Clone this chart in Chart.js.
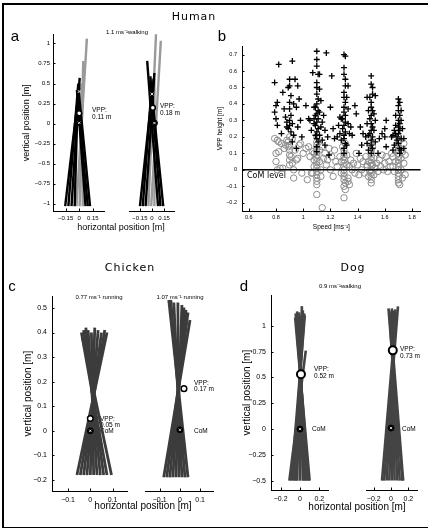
<!DOCTYPE html>
<html>
<head>
<meta charset="utf-8">
<script src="https://cdn.jsdelivr.net/npm/chart.js@4.4.1/dist/chart.umd.min.js"></script>
<style>
  html, body { margin: 0; padding: 0; background: #fff; }
  #fig { position: relative; width: 428px; height: 530px; overflow: hidden;
         font-family: "Liberation Sans", Arial, sans-serif; color: #000; }
  #fig canvas { position: absolute; }
  .t { position: absolute; white-space: nowrap; line-height: 1; will-change: transform; }
  .c { transform: translate(-50%, -50%); }
  .l { transform: translateY(-50%); }
  .head { font-family: "DejaVu Sans", sans-serif; font-size: 11px; letter-spacing: 1px; }
  .letter { font-size: 15px; }
  .small { font-size: 6px; }
  .note { font-size: 6.5px; }
  .rule { position: absolute; background: #000; }
</style>
</head>
<body>
<div id="fig">
  <div class="rule" style="left:2px;top:3px;width:426px;height:1.5px"></div>
  <div class="rule" style="left:2px;top:3px;width:1.5px;height:525px"></div>
  <div class="rule" style="left:2px;top:526.5px;width:426px;height:1.5px"></div>

  <div class="t c head" style="left:194px;top:16px">Human</div>
  <div class="t c head" style="left:130px;top:267px">Chicken</div>
  <div class="t c head" style="left:353px;top:267px">Dog</div>

  <div class="t c letter" style="left:15px;top:35px">a</div>
  <div class="t c letter" style="left:222px;top:35px">b</div>
  <div class="t c letter" style="left:12px;top:285px">c</div>
  <div class="t c letter" style="left:244px;top:285px">d</div>

  <div class="t c small" style="left:127px;top:32px">1.1 ms⁻¹walking</div>
  <div class="t l note" style="left:92px;top:110px">VPP:</div>
  <div class="t l note" style="left:92px;top:117px">0.11 m</div>
  <div class="t l note" style="left:160px;top:106px">VPP:</div>
  <div class="t l note" style="left:160px;top:112.5px">0.18 m</div>
  <div class="t c" style="left:121px;top:227px;font-size:9px">horizontal position [m]</div>

  <div class="t l" style="left:247px;top:176px;font-family:'DejaVu Sans',sans-serif;font-size:8px">CoM level</div>

  <div class="t c small" style="left:99px;top:297px">0.77 ms⁻¹ running</div>
  <div class="t c small" style="left:180px;top:297px">1.07 ms⁻¹ running</div>
  <div class="t l note" style="left:100px;top:418.5px">VPP:</div>
  <div class="t l note" style="left:100px;top:424.5px">0.05 m</div>
  <div class="t l note" style="left:100px;top:431px">CoM</div>
  <div class="t l note" style="left:194px;top:382.5px">VPP:</div>
  <div class="t l note" style="left:194px;top:389px">0.17 m</div>
  <div class="t l note" style="left:194px;top:430.5px">CoM</div>
  <div class="t c" style="left:143px;top:506px;font-size:10px">horizontal position [m]</div>

  <div class="t c small" style="left:340px;top:286px">0.9 ms⁻¹walking</div>
  <div class="t l note" style="left:314px;top:369px">VPP:</div>
  <div class="t l note" style="left:314px;top:375.5px">0.52 m</div>
  <div class="t l note" style="left:312px;top:428.5px">CoM</div>
  <div class="t l note" style="left:400px;top:349px">VPP:</div>
  <div class="t l note" style="left:400px;top:355.5px">0.73 m</div>
  <div class="t l note" style="left:402px;top:429px">CoM</div>
  <div class="t c" style="left:357px;top:507px;font-size:10px">horizontal position [m]</div>
</div>
<script>
// Multi-panel VPP figure: Human (a, b), Chicken (c), Dog (d).
// Fans are leg-force lines stored as [x bottom, y bottom, x top, y top].

// ---- panel a (human, 1.1 m/s walking) ----
const aLeftBlack = [
  [-0.155, -1.03, 0.0, 0.45], [-0.12, -1.03, -0.01, 0.50], [-0.085, -1.03, 0.005, 0.57],
  [-0.05, -1.03, -0.015, 0.40], [0.07, -1.03, -0.025, 0.42], [0.095, -1.03, -0.02, 0.35],
  [0.12, -1.03, -0.01, 0.45],
];
const aLeftGrey = [
  [-0.03, -1.03, 0.085, 1.06], [0.005, -1.03, 0.045, 0.78], [0.04, -1.03, 0.02, 0.50],
];
const aRightBlack = [
  [-0.15, -1.03, 0.02, 0.55], [-0.115, -1.03, 0.0, 0.50], [-0.08, -1.03, 0.03, 0.62],
  [0.075, -1.03, -0.06, 0.77], [0.105, -1.03, -0.02, 0.58], [0.14, -1.03, -0.01, 0.45],
];
const aRightGrey = [
  [-0.045, -1.03, 0.05, 1.10], [-0.01, -1.03, 0.11, 1.02], [0.03, -1.03, 0.03, 0.55],
];
const aVpp = [[0.0, 0.13], [0.01, 0.19]];
const aCom = [[0.0, 0.01], [0.03, 0.0]];
const aTopMark = [[0.0, 0.40], [0.0, 0.36]];

// ---- panel b (VPP height vs speed) ----
const bCrosses = [
  [0.79,0.53],[0.80,0.39],[0.81,0.41],[0.79,0.35],[0.80,0.31],[0.81,0.27],[0.82,0.64],[0.84,0.22],
  [0.85,0.47],[0.86,0.37],[0.87,0.32],[0.88,0.26],[0.89,0.50],[0.90,0.55],[0.90,0.51],[0.91,0.45],
  [0.90,0.41],[0.90,0.37],[0.91,0.33],[0.90,0.30],[0.90,0.27],[0.89,0.25],[0.91,0.23],[0.92,0.66],
  [0.92,0.28],[0.93,0.40],[0.94,0.55],[0.95,0.38],[0.96,0.51],[0.97,0.43],[0.98,0.30],[0.99,0.20],
  [1.02,0.39],[1.04,0.31],[1.05,0.30],[0.96,0.26],[0.93,0.21],[0.88,0.29],[0.92,0.17],[0.95,0.13],
  [1.07,0.59],[1.08,0.38],[1.10,0.72],[1.10,0.67],[1.10,0.63],[1.11,0.58],[1.12,0.58],[1.10,0.53],
  [1.10,0.50],[1.12,0.49],[1.10,0.46],[1.11,0.43],[1.10,0.40],[1.09,0.38],[1.11,0.36],[1.10,0.34],
  [1.09,0.33],[1.11,0.31],[1.10,0.29],[1.09,0.27],[1.11,0.25],[1.10,0.23],[1.09,0.21],[1.10,0.19],
  [1.11,0.17],[1.10,0.14],[1.10,0.11],[1.13,0.26],[1.14,0.18],[1.15,0.33],[1.16,0.24],[1.17,0.71],
  [1.18,0.20],[1.19,0.09],[1.20,0.38],[1.21,0.57],[1.22,0.25],[1.23,0.19],[1.13,0.42],[1.08,0.28],
  [1.06,0.24],[1.12,0.35],[1.08,0.31],[1.12,0.21],[1.14,0.29],[1.16,0.15],
  [1.30,0.70],[1.31,0.69],[1.30,0.62],[1.30,0.58],[1.31,0.55],[1.31,0.51],[1.33,0.51],[1.30,0.47],
  [1.30,0.44],[1.31,0.41],[1.30,0.38],[1.30,0.35],[1.31,0.33],[1.29,0.31],[1.31,0.29],[1.30,0.27],
  [1.29,0.25],[1.31,0.23],[1.30,0.21],[1.30,0.19],[1.31,0.16],[1.30,0.13],[1.30,0.10],[1.28,0.31],
  [1.27,0.22],[1.26,0.27],[1.33,0.28],[1.34,0.22],[1.35,0.26],[1.36,0.21],[1.33,0.37],[1.32,0.44],
  [1.38,0.39],[1.39,0.34],[1.42,0.26],[1.44,0.22],[1.41,0.10],[1.43,0.15],[1.28,0.18],[1.32,0.15],
  [1.27,0.32],[1.25,0.20],
  [1.50,0.57],[1.50,0.52],[1.51,0.50],[1.49,0.44],[1.51,0.46],[1.50,0.41],[1.50,0.38],[1.51,0.36],
  [1.50,0.33],[1.49,0.31],[1.50,0.28],[1.51,0.26],[1.50,0.24],[1.49,0.22],[1.51,0.20],[1.50,0.18],
  [1.50,0.15],[1.51,0.13],[1.50,0.10],[1.47,0.44],[1.48,0.36],[1.53,0.45],[1.53,0.30],[1.52,0.24],
  [1.47,0.16],[1.46,0.20],[1.48,0.21],[1.55,0.10],[1.56,0.19],[1.58,0.22],[1.60,0.25],[1.61,0.30],
  [1.60,0.20],[1.61,0.14],[1.47,0.28],[1.52,0.34],[1.48,0.12],[1.53,0.17],
  [1.70,0.43],[1.71,0.41],[1.70,0.39],[1.70,0.36],[1.71,0.33],[1.72,0.36],[1.68,0.33],[1.70,0.30],
  [1.71,0.28],[1.70,0.26],[1.71,0.24],[1.70,0.22],[1.69,0.20],[1.69,0.18],[1.70,0.16],[1.71,0.13],
  [1.72,0.12],[1.68,0.27],[1.67,0.24],[1.66,0.21],[1.73,0.25],[1.74,0.19],[1.74,0.13],[1.66,0.12],
  [1.67,0.15],[1.71,0.10],[1.65,0.20],[1.72,0.30],[1.68,0.22],[1.72,0.19],
];
const bCircles = [
  [0.79,0.19],[0.81,0.18],[0.82,0.17],[0.80,0.10],[0.82,0.11],[0.80,0.05],[0.81,0.00],[0.83,0.01],
  [0.85,0.01],[0.84,0.16],[0.86,0.13],[0.87,0.15],[0.88,0.18],[0.89,0.17],[0.90,0.20],[0.90,0.15],
  [0.90,0.12],[0.90,0.09],[0.90,0.06],[0.90,0.03],[0.89,0.14],[0.91,0.08],[0.92,0.04],[0.93,0.00],
  [0.92,0.19],[0.94,0.12],[0.95,0.06],[0.96,0.07],[0.93,-0.05],[0.97,0.15],[0.98,0.16],[0.99,-0.02],
  [1.00,0.10],[1.02,0.13],[1.03,-0.06],[1.04,0.14],[1.05,0.08],[1.06,-0.02],[1.07,0.11],
  [1.10,0.20],[1.10,0.17],[1.10,0.15],[1.10,0.13],[1.10,0.11],[1.10,0.09],[1.10,0.07],[1.10,0.05],
  [1.10,0.03],[1.10,0.01],[1.10,-0.01],[1.10,-0.03],[1.10,-0.05],[1.10,-0.07],[1.10,-0.09],[1.10,-0.15],
  [1.08,0.10],[1.12,0.12],[1.12,0.05],[1.08,0.02],[1.13,0.00],[1.14,0.14],[1.15,0.07],[1.16,0.10],
  [1.13,-0.04],[1.14,-0.23],[1.17,0.03],[1.18,0.06],[1.19,0.13],[1.20,0.00],[1.21,0.08],[1.22,-0.04],
  [1.23,0.12],[1.24,0.05],[1.25,0.02],[1.08,0.06],[1.07,-0.02],
  [1.30,0.12],[1.30,0.10],[1.30,0.08],[1.30,0.06],[1.30,0.04],[1.30,0.02],[1.30,0.00],[1.30,-0.02],
  [1.30,-0.04],[1.30,-0.06],[1.31,-0.08],[1.30,-0.10],[1.31,-0.12],[1.30,-0.17],[1.28,0.05],[1.32,0.09],
  [1.32,0.03],[1.28,-0.02],[1.33,-0.05],[1.27,0.08],[1.34,0.02],[1.35,0.06],[1.33,-0.07],[1.34,-0.09],
  [1.36,0.00],[1.37,0.04],[1.38,-0.02],[1.39,0.10],[1.40,0.03],[1.41,-0.03],[1.42,0.07],[1.43,0.00],
  [1.44,0.05],[1.45,-0.02],[1.46,0.08],[1.47,0.03],[1.29,0.14],[1.31,0.16],
  [1.50,0.12],[1.50,0.10],[1.50,0.08],[1.50,0.06],[1.50,0.04],[1.50,0.02],[1.50,0.00],[1.50,-0.02],
  [1.50,-0.04],[1.50,-0.06],[1.50,-0.08],[1.49,-0.01],[1.51,0.03],[1.48,0.05],[1.52,0.07],[1.53,0.01],
  [1.47,0.02],[1.54,0.04],[1.55,-0.01],[1.56,0.06],[1.57,0.02],[1.58,0.09],[1.59,0.00],[1.60,0.04],
  [1.61,0.08],[1.62,-0.01],[1.63,0.05],[1.64,0.02],[1.65,0.10],[1.52,-0.03],[1.48,-0.04],[1.51,0.14],
  [1.49,0.16],
  [1.70,0.20],[1.70,0.17],[1.70,0.14],[1.70,0.12],[1.70,0.10],[1.70,0.08],[1.70,0.06],[1.70,0.04],
  [1.70,0.02],[1.70,0.00],[1.70,-0.02],[1.70,-0.04],[1.70,-0.06],[1.70,-0.08],[1.71,-0.09],[1.68,0.05],
  [1.72,0.07],[1.68,0.12],[1.72,0.00],[1.73,0.11],[1.67,-0.01],[1.74,0.04],[1.75,-0.03],[1.66,0.08],
  [1.73,-0.05],[1.69,0.15],[1.71,0.18],[1.74,0.16],[1.66,0.02],[1.75,0.09],
];
const bComLevel = [[0.55, 0.0], [1.864, 0.0]];

// ---- panel c (chicken, running) ----
const cLeft = [
  [-0.06, -0.18, 0.075, 0.40], [-0.045, -0.18, 0.065, 0.41], [-0.03, -0.18, 0.05, 0.40],
  [-0.015, -0.18, 0.035, 0.41], [0.0, -0.18, 0.02, 0.42], [0.015, -0.18, 0.005, 0.40],
  [0.03, -0.18, -0.01, 0.41], [0.045, -0.18, -0.02, 0.42], [0.06, -0.18, -0.03, 0.41],
  [0.075, -0.18, -0.04, 0.40], [0.095, -0.18, -0.035, 0.38],
];
const cRight = [
  [-0.08, -0.19, 0.05, 0.44], [-0.065, -0.19, 0.04, 0.47], [-0.05, -0.19, 0.03, 0.48],
  [-0.035, -0.19, 0.02, 0.49], [-0.02, -0.19, 0.01, 0.50], [-0.005, -0.19, -0.01, 0.51],
  [0.01, -0.19, -0.03, 0.51], [0.025, -0.19, -0.045, 0.52], [0.04, -0.19, -0.055, 0.52],
];
const cVpp = [[0.0, 0.05], [0.02, 0.165]];

// ---- panel d (dog, 0.9 m/s walking) ----
const dLeft = [
  [-0.11, -0.5, 0.06, 0.76], [-0.09, -0.5, 0.05, 1.10], [-0.07, -0.5, 0.045, 1.12],
  [-0.05, -0.5, 0.03, 1.15], [-0.03, -0.5, 0.02, 1.19], [0.0, -0.5, 0.01, 1.10],
  [0.03, -0.5, -0.01, 1.13], [0.05, -0.5, -0.02, 1.10], [0.07, -0.5, -0.03, 1.14],
  [0.09, -0.5, -0.045, 1.12], [0.10, -0.5, -0.05, 1.08],
];
const dRight = [
  [-0.105, -0.5, 0.06, 1.10], [-0.08, -0.5, 0.08, 1.16], [-0.05, -0.5, 0.05, 1.13],
  [-0.02, -0.5, 0.035, 1.10], [0.01, -0.5, 0.02, 1.12], [0.04, -0.5, 0.01, 1.14],
  [0.07, -0.5, 0.0, 1.10], [0.10, -0.5, -0.02, 1.12], [0.13, -0.5, -0.03, 1.14],
  [0.14, -0.5, -0.01, 1.05],
];
const dVpp = [[0.01, 0.53], [0.02, 0.74]];

// tick values
const aYTicks = [-1, -0.75, -0.5, -0.25, 0, 0.25, 0.5, 0.75, 1];
const aXTicks = [-0.15, 0, 0.15];
const bXTicks = [0.6, 0.8, 1, 1.2, 1.4, 1.6, 1.8];
const bYTicks = [-0.2, -0.1, 0, 0.1, 0.2, 0.3, 0.4, 0.5, 0.6, 0.7];
const cYTicks = [-0.2, -0.1, 0, 0.1, 0.2, 0.3, 0.4, 0.5];
const cXTicks = [-0.1, 0, 0.1];
const dYTicks = [-0.5, -0.25, 0, 0.25, 0.5, 0.75, 1];
const dXTicks = [-0.2, 0, 0.2];

const FONT = '"Liberation Sans", Arial, sans-serif';
const fig = document.getElementById('fig');
const fmt = v => String(v).replace('-', '\u2212');

// MATLAB-style tick marks pointing into the plot
const inTicks = {
  id: 'inTicks',
  afterDraw(chart, args, opts) {
    const { ctx, chartArea: a } = chart;
    const len = opts.len || 2.5;
    ctx.save();
    ctx.strokeStyle = '#000';
    ctx.lineWidth = 1;
    for (const s of Object.values(chart.scales)) {
      if (!s.options.display) continue;
      for (const t of s.ticks) {
        const p = Math.round(s.getPixelForValue(t.value)) + 0.5;
        ctx.beginPath();
        if (s.isHorizontal()) { ctx.moveTo(p, a.bottom); ctx.lineTo(p, a.bottom - len); }
        else { ctx.moveTo(a.left, p); ctx.lineTo(a.left + len, p); }
        ctx.stroke();
      }
    }
    ctx.restore();
  }
};

function axis(min, max, ticks, o) {
  const shown = o.show !== false;
  return {
    type: 'linear', min, max,
    display: shown,
    afterBuildTicks: s => { s.ticks = ticks.map(v => ({ value: v })); },
    afterFit: s => {
      if (!shown) { s.width = 0; s.height = 0; return; }
      if (o.horiz) s.height = o.size; else s.width = o.size;
    },
    ticks: { font: { size: o.fs, family: FONT }, color: '#000', padding: o.pad,
             maxRotation: 0, autoSkip: false, callback: v => fmt(v) },
    grid: { display: false, drawTicks: false },
    border: { display: true, color: '#000', width: 1 },
    title: o.title
      ? { display: true, text: o.title, color: '#000', font: { size: o.tfs, family: FONT }, padding: o.tpad }
      : { display: false },
  };
}

function segs(list, color, width) {
  return list.map(s => ({
    data: [{ x: s[0], y: s[1] }, { x: s[2], y: s[3] }],
    showLine: true, borderColor: color, borderWidth: width,
    pointRadius: 0, borderCapStyle: 'butt',
  }));
}

function dots(list, style) {
  return Object.assign({ data: list.map(p => ({ x: p[0], y: p[1] })) }, style);
}

const vppStyle = r => ({ pointStyle: 'circle', pointRadius: r, pointBackgroundColor: '#fff',
                         pointBorderColor: '#000', pointBorderWidth: r > 3 ? 2 : 1.5 });
const comOuter = { pointStyle: 'circle', pointRadius: 3, pointBackgroundColor: '#000',
                   pointBorderColor: '#000', pointBorderWidth: 1 };
const comInner = { pointStyle: 'crossRot', pointRadius: 1.6, pointBorderColor: '#fff', pointBorderWidth: 0.8 };
const topMark = { pointStyle: 'crossRot', pointRadius: 2, pointBorderColor: '#ddd', pointBorderWidth: 1 };

function makeChart(left, top, w, h, padTop, datasets, x, y) {
  const c = document.createElement('canvas');
  c.width = w; c.height = h;
  c.style.left = left + 'px'; c.style.top = top + 'px';
  c.style.width = w + 'px'; c.style.height = h + 'px';
  fig.appendChild(c);
  return new Chart(c, {
    type: 'scatter',
    data: { datasets },
    options: {
      responsive: false, animation: false, events: [], devicePixelRatio: 1,
      layout: { padding: { top: padTop, left: 0, right: 0, bottom: 0 } },
      plugins: { legend: { display: false }, tooltip: { enabled: false }, inTicks: { len: 2.5 } },
      scales: { x, y },
    },
    plugins: [inTicks],
  });
}

// panel a
const aY = { size: 36, fs: 6, pad: 3, title: 'vertical position [m]', tfs: 9, tpad: { top: 4, bottom: 0 } };
const aX = { horiz: true, size: 14, fs: 6, pad: 4 };
makeChart(17, 28, 93, 197, 5, [
  dots([aTopMark[0]], topMark),
  dots([aVpp[0]], vppStyle(2.5)),
  dots([aCom[0]], comInner), dots([aCom[0]], comOuter),
  ...segs(aLeftBlack, '#000', 2.4), ...segs(aLeftGrey, '#9a9a9a', 2.4),
], axis(-0.29, 0.28, aXTicks, aX), axis(-1.09, 1.11, aYTicks, aY));
makeChart(124, 28, 56, 197, 5, [
  dots([aTopMark[1]], topMark),
  dots([aVpp[1]], vppStyle(2.5)),
  dots([aCom[1]], comInner), dots([aCom[1]], comOuter),
  ...segs(aRightBlack, '#000', 2.4), ...segs(aRightGrey, '#9a9a9a', 2.4),
], axis(-0.28, 0.28, aXTicks, aX), axis(-1.09, 1.11, aYTicks, Object.assign({}, aY, { show: false })));

// panel b
makeChart(205, 38, 221, 195, 7, [
  dots(bComLevel, { showLine: true, borderColor: '#000', borderWidth: 1.5, pointRadius: 0 }),
  dots(bCrosses, { pointStyle: 'cross', pointRadius: 3, pointBorderColor: '#000', pointBorderWidth: 1.3 }),
  dots(bCircles, { pointStyle: 'circle', pointRadius: 3.2, pointBackgroundColor: 'rgba(0,0,0,0)',
                   pointBorderColor: '#8c8c8c', pointBorderWidth: 1 }),
], axis(0.55, 1.864, bXTicks, { horiz: true, size: 22, fs: 5.5, pad: 3, title: 'Speed [ms⁻¹]', tfs: 6.5, tpad: { top: 0, bottom: 2 } }),
   axis(-0.25, 0.75, bYTicks, { size: 37, fs: 5.5, pad: 5, title: 'VPP height [m]', tfs: 6.5, tpad: { top: 11, bottom: 0 } }));

// panel c
const cY = { size: 34, fs: 7, pad: 5, title: 'vertical position [m]', tfs: 10, tpad: { top: 4, bottom: 0 } };
const cX = { horiz: true, size: 14, fs: 7, pad: 5 };
makeChart(18, 287, 115, 218, 6, [
  dots([cVpp[0]], vppStyle(2.8)),
  dots([[0, 0]], comInner), dots([[0, 0]], comOuter),
  ...segs(cLeft, '#3c3c3c', 2.8),
], axis(-0.172, 0.167, cXTicks, cX), axis(-0.245, 0.548, cYTicks, cY));
makeChart(140, 287, 79, 218, 6, [
  dots([cVpp[1]], vppStyle(2.8)),
  dots([[0, 0]], comInner), dots([[0, 0]], comOuter),
  ...segs(cRight, '#3c3c3c', 2.8),
], axis(-0.17, 0.166, cXTicks, cX), axis(-0.245, 0.548, cYTicks, Object.assign({}, cY, { show: false })));

// panel d
const dY = { size: 34, fs: 7, pad: 5, title: 'vertical position [m]', tfs: 10, tpad: { top: 4, bottom: 0 } };
const dX = { horiz: true, size: 14, fs: 7, pad: 5 };
makeChart(237, 286, 97, 218, 6, [
  dots([dVpp[0]], vppStyle(4)),
  dots([[0, 0]], comInner), dots([[0, 0]], comOuter),
  ...segs(dLeft, '#444', 2.6),
], axis(-0.30, 0.29, dXTicks, dX), axis(-0.59, 1.296, dYTicks, dY));
makeChart(360, 286, 63, 218, 6, [
  dots([dVpp[1]], vppStyle(4)),
  dots([[0, 0]], comInner), dots([[0, 0]], comOuter),
  ...segs(dRight, '#444', 2.6),
], axis(-0.29, 0.30, dXTicks, dX), axis(-0.59, 1.296, dYTicks, Object.assign({}, dY, { show: false })));
</script>
</body>
</html>
